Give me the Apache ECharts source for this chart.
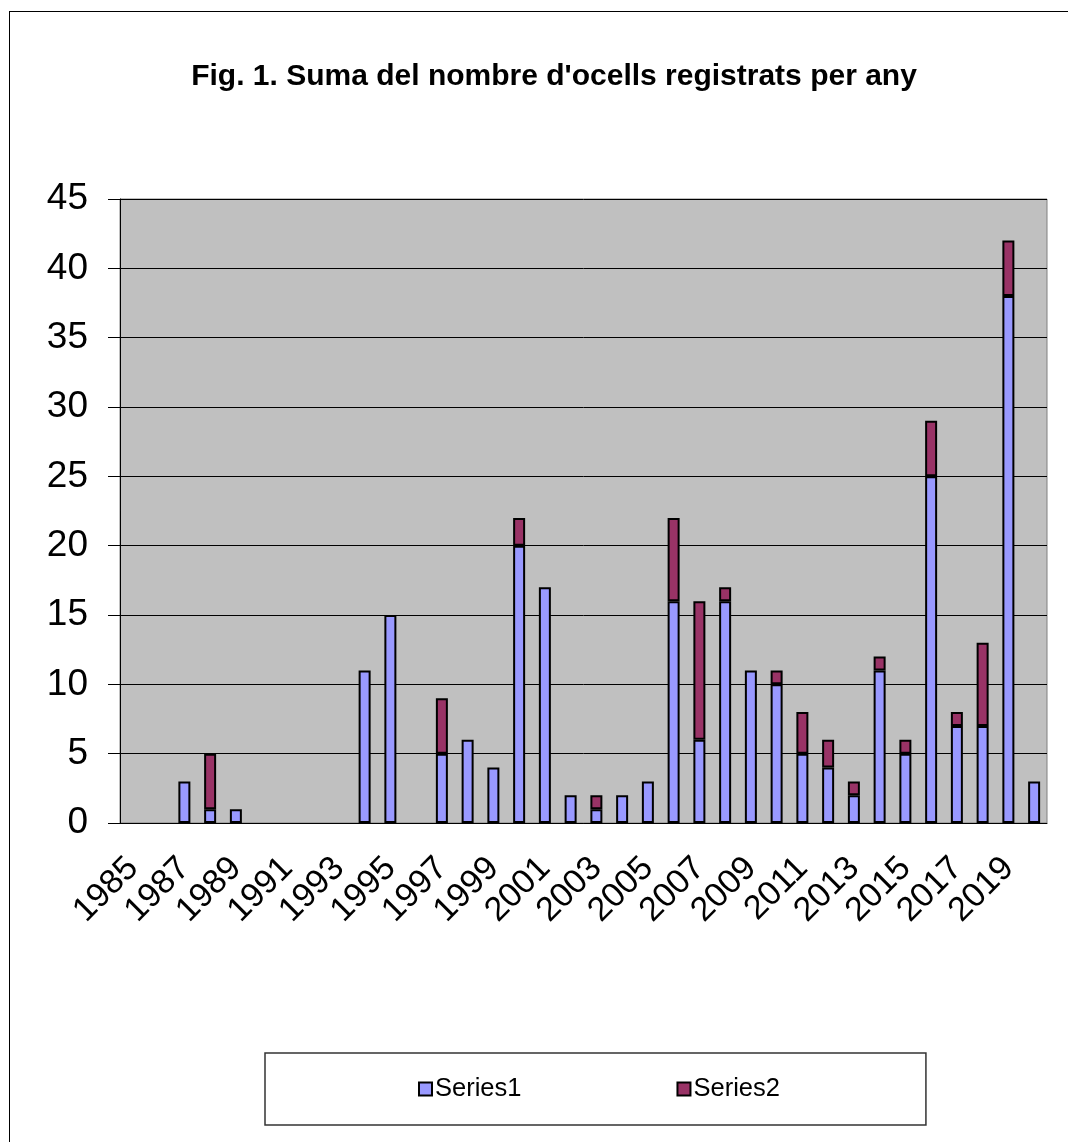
<!DOCTYPE html>
<html>
<head>
<meta charset="utf-8">
<script src="https://cdn.jsdelivr.net/npm/echarts@6/dist/echarts.min.js"></script>
<style>
html,body{margin:0;padding:0;background:#fff;}
#frame{position:absolute;left:9px;top:11px;width:1200px;height:1300px;border-left:1px solid #000;border-top:1px solid #000;}
#chart{position:absolute;left:0;top:0;width:1068px;height:1142px;}
</style>
</head>
<body>
<div id="frame"></div>
<div id="chart"></div>
<script>
const years = ['1985','1986','1987','1988','1989','1990','1991','1992','1993','1994','1995','1996','1997','1998','1999','2000','2001','2002','2003','2004','2005','2006','2007','2008','2009','2010','2011','2012','2013','2014','2015','2016','2017','2018','2019','2020'];
const series1 = [null,null,3,1,1,null,null,null,null,11,15,null,5,6,4,20,17,2,1,2,3,16,6,16,11,10,5,4,2,11,5,25,7,7,38,3];
const series2 = [null,null,null,4,null,null,null,null,null,null,null,null,4,null,null,2,null,null,1,null,null,6,10,1,null,1,3,2,1,1,1,4,1,6,4,null];
const yTicks = {min:0, max:45, interval:5};

const chart = echarts.init(document.getElementById('chart'), null, {renderer:'canvas'});
const FONT = '"Liberation Sans", Arial, sans-serif';
chart.setOption({
  backgroundColor: 'transparent',
  animation: false,
  title: {
    text: "Fig. 1. Suma del nombre d'ocells registrats per any",
    left: 549, top: 57, textAlign: 'center',
    textStyle: {fontFamily: FONT, fontSize: 30, fontWeight: 'bold', color: '#000'}
  },
  grid: {
    left: 120, right: 21, top: 199, bottom: 319,
    show: true, backgroundColor: '#C0C0C0', borderColor: '#808080', borderWidth: 1
  },
  legend: {
    data: ['Series1','Series2'],
    left: 265, top: 1053,
    padding: [23, 146, 23, 153],
    borderColor: '#333', borderWidth: 1.5,
    itemWidth: 13, itemHeight: 13, icon: 'rect', itemGap: 155,
    textStyle: {fontFamily: FONT, fontSize: 25.5, color: '#000', padding: [0,0,0,-2]}
  },
  xAxis: {
    type: 'category', data: years,
    axisLine: {lineStyle: {color: '#000', width: 1}},
    axisTick: {interval: 0, length: 12, lineStyle: {color: '#000'}},
    axisLabel: {interval: 1, rotate: 45, fontFamily: FONT, fontSize: 34, color: '#000', margin: 40}
  },
  yAxis: {
    type: 'value', min: yTicks.min, max: yTicks.max, interval: yTicks.interval,
    axisLine: {show: true, lineStyle: {color: '#000', width: 1}},
    axisTick: {show: true, length: 12, lineStyle: {color: '#000'}},
    axisLabel: {fontFamily: FONT, fontSize: 37, color: '#000', margin: 32},
    splitLine: {lineStyle: {color: '#000', width: 1}}
  },
  series: [
    {name: 'Series1', type: 'bar', stack: 'a', data: series1, barWidth: 12,
     itemStyle: {color: '#9999FF', borderColor: '#000', borderWidth: 2}},
    {name: 'Series2', type: 'bar', stack: 'a', data: series2, barWidth: 12,
     itemStyle: {color: '#993366', borderColor: '#000', borderWidth: 2}}
  ]
});
</script>
</body>
</html>
